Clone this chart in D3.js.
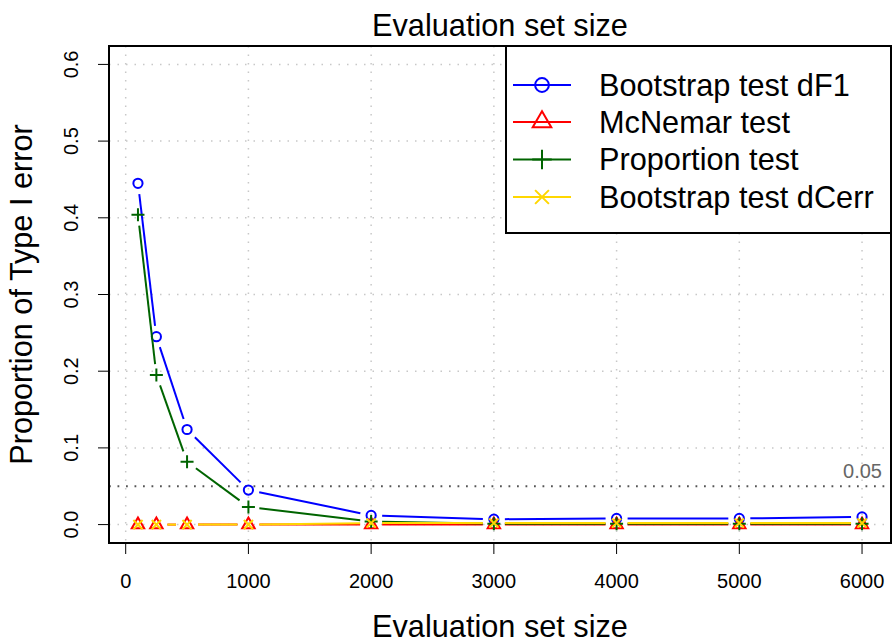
<!DOCTYPE html>
<html>
<head>
<meta charset="utf-8">
<title>Type I error vs evaluation set size</title>
<style>
  body { margin: 0; background: #fff; }
  svg text { font-family: "Liberation Sans", Arial, Helvetica, sans-serif; }
</style>
</head>
<body>
<script src="https://d3js.org/d3.v7.min.js"></script>
<script>
// data
var sizes = [100, 250, 500, 1000, 2000, 3000, 4000, 5000, 6000];
var bootF1 = [0.445, 0.245, 0.124, 0.045, 0.012, 0.007, 0.008, 0.008, 0.010];
var mcnemar = [0, 0, 0, 0, 0, 0, 0, 0, 0];
var propTest = [0.404, 0.195, 0.082, 0.023, 0.004, 0.001, 0.001, 0.001, 0.001];
var bootCerr = [0, 0, 0, 0, 0.002, 0.002, 0.002, 0.002, 0.002];
var xTicks = [0, 1000, 2000, 3000, 4000, 5000, 6000];
var yTicks = [0, 0.1, 0.2, 0.3, 0.4, 0.5, 0.6];
var seriesNames = ["Bootstrap test dF1", "McNemar test", "Proportion test", "Bootstrap test dCerr"];
var seriesColors = ["#0000ff", "#ff0000", "#006400", "#ffd700"];
var seriesShapes = ["circle", "triangle", "plus", "times"];
var seriesValues = [bootF1, mcnemar, propTest, bootCerr];
var alpha = 0.05;

var W = 895, H = 644;
var box = {left: 109, right: 891, top: 46, bottom: 543};
var bigFont = 30.7;

var svg = d3.select("body").append("svg")
    .attr("width", W).attr("height", H);

// R style 4% padding on both axes
var xpad = (d3.max(sizes) - d3.min(sizes)) * 0.04;
var x = d3.scaleLinear()
    .domain([d3.min(sizes) - xpad, d3.max(sizes) + xpad])
    .range([box.left, box.right]);
var y = d3.scaleLinear()
    .domain([-0.6 * 0.04, 0.6 * 1.04])
    .range([box.bottom, box.top]);

// grid
svg.append("g").selectAll("line").data(xTicks).enter().append("line")
    .attr("x1", function(d) { return x(d); }).attr("x2", function(d) { return x(d); })
    .attr("y1", box.top).attr("y2", box.bottom)
    .attr("stroke", "#c8c8c8").attr("stroke-width", 1.5)
    .attr("stroke-dasharray", "1.5,7");
svg.append("g").selectAll("line").data(yTicks).enter().append("line")
    .attr("y1", function(d) { return y(d); }).attr("y2", function(d) { return y(d); })
    .attr("x1", box.left).attr("x2", box.right)
    .attr("stroke", "#c8c8c8").attr("stroke-width", 1.5)
    .attr("stroke-dasharray", "1.5,7");

// 0.05 reference line
svg.append("line")
    .attr("x1", box.left).attr("x2", box.right)
    .attr("y1", y(alpha)).attr("y2", y(alpha))
    .attr("stroke", "#555").attr("stroke-width", 1.8)
    .attr("stroke-dasharray", "1.8,6.7");
svg.append("text")
    .attr("x", 882).attr("y", y(alpha) - 8)
    .attr("text-anchor", "end")
    .attr("font-size", 20).attr("fill", "#666")
    .text("0.05");

// symbols (R pch 1,2,3,4)
function symbolPath(shape, s) {
    if (shape === "circle") {
        return d3.arc()({innerRadius: 0, outerRadius: s, startAngle: 0, endAngle: 2 * Math.PI});
    }
    if (shape === "triangle") {
        var r = 1.5551 * s, xc = 1.3468 * s, yc = 0.7776 * s;
        return "M0," + (-r) + "L" + xc + "," + yc + "L" + (-xc) + "," + yc + "Z";
    }
    if (shape === "plus") {
        var p = Math.SQRT2 * s;
        return "M" + (-p) + ",0L" + p + ",0M0," + (-p) + "L0," + p;
    }
    return "M" + (-s) + "," + (-s) + "L" + s + "," + s + "M" + (-s) + "," + s + "L" + s + "," + (-s);
}

// type = "b": segments with gaps around points
var gap = 11;
function gappedSegments(pts) {
    var segs = [];
    for (var i = 1; i < pts.length; i++) {
        var a = pts[i - 1], b = pts[i];
        var dx = b[0] - a[0], dy = b[1] - a[1];
        var len = Math.sqrt(dx * dx + dy * dy);
        if (len <= 2 * gap) continue;
        var ux = dx / len, uy = dy / len;
        segs.push([a[0] + ux * gap, a[1] + uy * gap, b[0] - ux * gap, b[1] - uy * gap]);
    }
    return segs;
}

// draw order: blue, red, green, yellow
seriesValues.forEach(function(vals, k) {
    var pts = sizes.map(function(s, i) { return [x(s), y(vals[i])]; });
    var g = svg.append("g");
    g.selectAll("line").data(gappedSegments(pts)).enter().append("line")
        .attr("x1", function(d) { return d[0]; }).attr("y1", function(d) { return d[1]; })
        .attr("x2", function(d) { return d[2]; }).attr("y2", function(d) { return d[3]; })
        .attr("stroke", seriesColors[k]).attr("stroke-width", 2);
    g.selectAll("path").data(pts).enter().append("path")
        .attr("transform", function(d) { return "translate(" + d[0] + "," + d[1] + ")"; })
        .attr("d", symbolPath(seriesShapes[k], 4.6))
        .attr("fill", "none")
        .attr("stroke", seriesColors[k]).attr("stroke-width", 2);
});

// box
svg.append("rect")
    .attr("x", box.left).attr("y", box.top)
    .attr("width", box.right - box.left).attr("height", box.bottom - box.top)
    .attr("fill", "none").attr("stroke", "#000").attr("stroke-width", 2);

// x axis
var xa = svg.append("g");
xa.selectAll("line").data(xTicks).enter().append("line")
    .attr("x1", function(d) { return x(d); }).attr("x2", function(d) { return x(d); })
    .attr("y1", box.bottom).attr("y2", box.bottom + 11)
    .attr("stroke", "#000").attr("stroke-width", 1);
xa.selectAll("text").data(xTicks).enter().append("text")
    .attr("x", function(d) { return x(d); }).attr("y", 588)
    .attr("text-anchor", "middle").attr("font-size", 20)
    .text(function(d) { return d; });

// y axis
var ya = svg.append("g");
ya.selectAll("line").data(yTicks).enter().append("line")
    .attr("y1", function(d) { return y(d); }).attr("y2", function(d) { return y(d); })
    .attr("x1", box.left - 11).attr("x2", box.left)
    .attr("stroke", "#000").attr("stroke-width", 1);
ya.selectAll("text").data(yTicks).enter().append("text")
    .attr("transform", function(d) { return "translate(78," + y(d) + ") rotate(-90)"; })
    .attr("text-anchor", "middle").attr("font-size", 20)
    .text(function(d) { return d3.format(".1f")(d); });

// titles
var cx = (box.left + box.right) / 2, cy = (box.top + box.bottom) / 2;
svg.append("text").attr("x", cx).attr("y", 36)
    .attr("text-anchor", "middle").attr("font-size", bigFont)
    .text("Evaluation set size");
svg.append("text").attr("x", cx).attr("y", 637)
    .attr("text-anchor", "middle").attr("font-size", bigFont)
    .text("Evaluation set size");
svg.append("text")
    .attr("transform", "translate(32," + cy + ") rotate(-90)")
    .attr("text-anchor", "middle").attr("font-size", bigFont)
    .text("Proportion of Type I error");

// legend
var leg = svg.append("g");
leg.append("rect")
    .attr("x", 506).attr("y", box.top)
    .attr("width", box.right - 506).attr("height", 233 - box.top)
    .attr("fill", "#fff").attr("stroke", "#000").attr("stroke-width", 2);
var rowY = [85, 122, 159.5, 197];
seriesNames.forEach(function(name, k) {
    var ry = rowY[k];
    leg.append("line")
        .attr("x1", 513).attr("x2", 571).attr("y1", ry).attr("y2", ry)
        .attr("stroke", seriesColors[k]).attr("stroke-width", 2);
    leg.append("path")
        .attr("transform", "translate(542," + ry + ")")
        .attr("d", symbolPath(seriesShapes[k], 6.9))
        .attr("fill", "none").attr("stroke", seriesColors[k]).attr("stroke-width", 2);
    leg.append("text")
        .attr("x", 599).attr("y", ry + 10.5)
        .attr("font-size", bigFont)
        .text(name);
});
</script>
</body>
</html>
